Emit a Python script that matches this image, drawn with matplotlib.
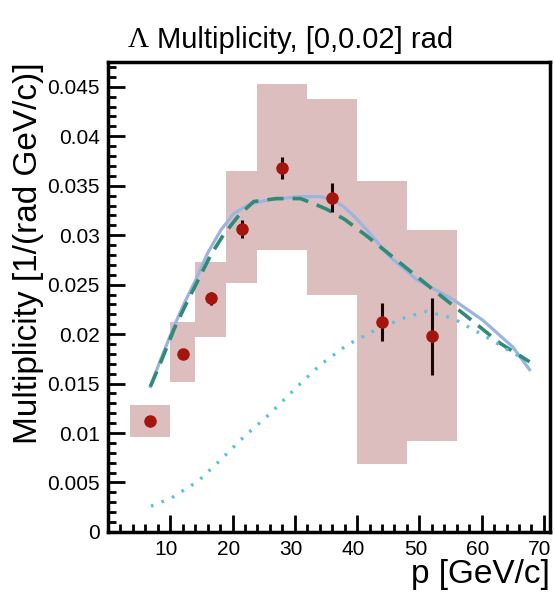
import numpy as np
import matplotlib
matplotlib.use('Agg')
import matplotlib.pyplot as plt
import matplotlib.transforms as mtransforms
from matplotlib.patches import Rectangle
from matplotlib.ticker import MultipleLocator

plt.rcParams['font.family'] = ['Liberation Sans', 'DejaVu Sans']

# measured points (Lambda multiplicity)
p_center = [6.75, 12.0, 16.5, 21.5, 28.0, 36.0, 44.0, 52.0]
mult = [0.0112, 0.0180, 0.0236, 0.0306, 0.0368, 0.0338, 0.0212, 0.0198]
stat_err = [0.0003, 0.0003, 0.0007, 0.0009, 0.0011, 0.0015, 0.0019, 0.0039]

# systematic boxes: bin edges and band limits
bin_lo = [3.5, 10, 14, 19, 24, 32, 40, 48]
bin_hi = [10, 14, 19, 24, 32, 40, 48, 56]
sys_lo = [0.0096, 0.0152, 0.0197, 0.0252, 0.0285, 0.0240, 0.0069, 0.0092]
sys_hi = [0.0128, 0.0212, 0.0273, 0.0365, 0.0453, 0.0438, 0.0355, 0.0305]

# model curves
solid_x = [6.8, 8.5, 10.6, 12.3, 14.1, 16.0, 18.1, 20.2, 22.9, 26.1, 30.9, 34.1,
           36.0, 37.8, 39.7, 41.6, 45.3, 49.6, 55.4, 60.2, 65.0, 67.7]
solid_y = [0.0147, 0.0175, 0.0208, 0.0232, 0.0255, 0.0282, 0.0305, 0.0322, 0.0332,
           0.0336, 0.0339, 0.0339, 0.0336, 0.0329, 0.0318, 0.0305, 0.0278, 0.0255,
           0.0235, 0.0214, 0.0187, 0.0164]

dash_x = [6.8, 8.5, 10.6, 12.5, 14.5, 16.5, 18.5, 21.0, 23.4, 27.0, 30.9, 33.0,
          35.2, 38.0, 41.6, 46.9, 52.2, 57.6, 62.9, 67.7]
dash_y = [0.0147, 0.0172, 0.0205, 0.0230, 0.0255, 0.0280, 0.0300, 0.0320, 0.0334,
          0.0337, 0.0337, 0.0332, 0.0326, 0.0316, 0.0299, 0.0272, 0.0245, 0.0218,
          0.0191, 0.0172]

dot_x = [6.9, 10.1, 14.4, 18.1, 21.8, 26.1, 30.4, 34.1, 38.4, 42.6, 47.4, 51.2,
         55.4, 60.8, 65.0, 67.1]
dot_y = [0.0026, 0.0034, 0.0051, 0.0073, 0.0096, 0.0120, 0.0147, 0.0169, 0.0189,
         0.0203, 0.0216, 0.0223, 0.0216, 0.0197, 0.0181, 0.0174]

fig = plt.figure(figsize=(5.54, 5.97), dpi=100)
ax = fig.add_axes([0.195, 0.109, 0.798, 0.787])

for lo, hi, ylo, yhi in zip(bin_lo, bin_hi, sys_lo, sys_hi):
    ax.add_patch(Rectangle((lo, ylo), hi - lo, yhi - ylo, facecolor='#dcbebe',
                           edgecolor='none', zorder=1))

ax.plot(solid_x, solid_y, color='#9cb4e0', lw=2.3, zorder=3)
ax.plot(dash_x, dash_y, color='#2f8a78', lw=2.6, dashes=(4.5, 2.5), zorder=3)
ax.plot(dot_x, dot_y, color='#5cc0e2', lw=2.4, dashes=(0.8, 2.6), zorder=3)

ax.errorbar(p_center, mult, yerr=stat_err, fmt='o', color='#a3160e', ms=8,
            ecolor='#1a0505', elinewidth=2.2, capsize=0, zorder=5)

ax.set_xlim(0, 71)
ax.set_ylim(0, 0.0475)
ax.xaxis.set_minor_locator(MultipleLocator(2))
ax.yaxis.set_minor_locator(MultipleLocator(0.001))
ax.set_xticks([10, 20, 30, 40, 50, 60, 70])
ax.set_yticks([0, 0.005, 0.01, 0.015, 0.02, 0.025, 0.03, 0.035, 0.04, 0.045])
ax.set_yticklabels(['0', '0.005', '0.01', '0.015', '0.02', '0.025', '0.03',
                    '0.035', '0.04', '0.045'])
ax.tick_params(which='both', direction='in', width=2, labelsize=15, color='black')
ax.tick_params(which='major', length=12, pad=6)
ax.tick_params(which='minor', length=6)
ax.tick_params(top=False, right=False)
for s in ax.spines.values():
    s.set_linewidth(2.5)

# x tick labels sit a little left of their ticks
shift = mtransforms.ScaledTranslation(-4 / 100, 0, fig.dpi_scale_trans)
for lab in ax.get_xticklabels():
    lab.set_transform(lab.get_transform() + shift)

ax.set_xlabel('p [GeV/c]', fontsize=24, loc='right', labelpad=0)
ax.set_ylabel('Multiplicity [1/(rad GeV/c)]', fontsize=24, loc='top', labelpad=2)

fig.text(0.231, 0.933, '\u039b', fontsize=21, family=['Liberation Serif', 'DejaVu Serif'],
         ha='left', va='center')
fig.text(0.283, 0.933, 'Multiplicity, [0,0.02] rad', fontsize=21, ha='left', va='center')

fig.savefig('out.png', dpi=100)
